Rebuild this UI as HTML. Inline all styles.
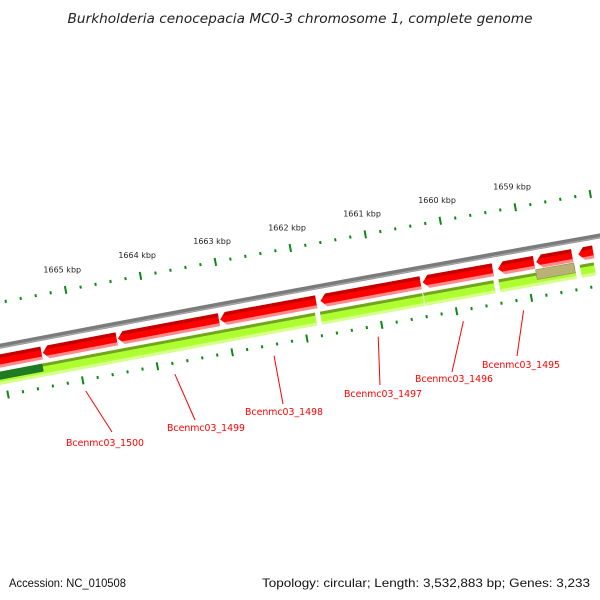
<!DOCTYPE html>
<html><head><meta charset="utf-8"><style>
html,body{margin:0;padding:0;background:#fff;}
svg{display:block;}
</style></head><body>
<svg id="map" width="600" height="600" viewBox="0 0 600 600" xmlns="http://www.w3.org/2000/svg">
<rect width="600" height="600" fill="#fff"/>
<text x="300" y="23" text-anchor="middle" font-family="DejaVu Sans, Liberation Sans, sans-serif" font-style="italic" font-size="13" textLength="465" lengthAdjust="spacingAndGlyphs" fill="#222">Burkholderia cenocepacia MC0-3 chromosome 1, complete genome</text>
<g id="layer"></g>
<text x="9" y="587" font-family="Liberation Sans, sans-serif" font-size="12" textLength="117" lengthAdjust="spacingAndGlyphs" fill="#111">Accession: NC_010508</text>
<text x="590" y="587" text-anchor="end" font-family="Liberation Sans, sans-serif" font-size="12" textLength="328" lengthAdjust="spacingAndGlyphs" fill="#111">Topology: circular; Length: 3,532,883 bp; Genes: 3,233</text>
</svg>
<script>
const genomeLength = 3532883;
const tickLabels = [1665000, 1664000, 1663000, 1662000, 1661000, 1660000, 1659000];
const redGeneStarts = [1665464, 1664459, 1663092, 1661792, 1660398, 1659434, 1658884, 1658375, 1658094];
const redGeneEnds   = [1666442, 1665450, 1664445, 1663078, 1661738, 1660372, 1659367, 1658857, 1658295];
const greenStarts = [1663097, 1661837, 1660403, 1659452, 1658367, 1658112, 1665482];
const greenEnds   = [1665482, 1663097, 1661770, 1660390, 1659385, 1658299, 1666487];
const darkGreenStarts = [1665482];
const darkGreenEnds = [1666487];
const khakiStarts = [1658373];
const khakiEnds = [1658882];
const geneLabels = ["Bcenmc03_1500","Bcenmc03_1499","Bcenmc03_1498","Bcenmc03_1497","Bcenmc03_1496","Bcenmc03_1495"];
const geneLabelBp = [1664987, 1663794, 1662467, 1661074, 1659935, 1659131];

// layout
const labelLineEnd = [[112,432],[195,420],[283,404],[380,385],[452,372],[517,356]];
const labelTextPos = [[66,446],[167,431],[245,415],[344,397],[415,382],[482,368]];

const NS = "http://www.w3.org/2000/svg";
const layer = document.getElementById('layer');
const pxPerBp = 0.0762;
const R = pxPerBp * genomeLength / (2 * Math.PI);
const refBp = 1665000, P0 = [66, 292];
const n = [-0.186, -0.9825];
const C = [P0[0] - R * n[0], P0[1] - R * n[1]];
const a0 = Math.atan2(n[1], n[0]);
function pos(bp, off) {
  const a = a0 + (refBp - bp) / genomeLength * 2 * Math.PI;
  return [C[0] + (R + off) * Math.cos(a), C[1] + (R + off) * Math.sin(a)];
}
function pts(list) { return list.map(p => p[0].toFixed(2) + ',' + p[1].toFixed(2)).join(' '); }
function mk(tag, attrs) { const e = document.createElementNS(NS, tag); for (const k in attrs) e.setAttribute(k, attrs[k]); return e; }
function bandPts(s, e, o1, o2) {
  const m = (s + e) / 2;
  return [pos(s, o1), pos(m, o1), pos(e, o1), pos(e, o2), pos(m, o2), pos(s, o2)];
}

// backbone
const bb = [];
for (let b = 1667000; b >= 1657000; b -= 500) bb.push(pos(b, -43));
const back = mk('polyline', {points: pts(bb), fill: 'none', stroke: '#7b7b7b', 'stroke-width': 5});


layer.appendChild(back);
const backHi = mk('polyline', {points: pts(bb.map((p, i) => pos(1667000 - i * 500, -44.5))), fill: 'none', stroke: '#a8a8a8', 'stroke-width': 1.2});


layer.appendChild(backHi);

// ticks
for (let b = 1666800; b >= 1657400; b -= 200) {
  const major = b % 1000 === 0;
  const h = major ? 4 : 1.5;
  [0, -92].forEach((base, k) => {
    const p1 = pos(b, base + h), p2 = pos(b, base - h);
    const t = mk('line', {x1: p1[0], y1: p1[1], x2: p2[0], y2: p2[1], stroke: '#0a8a14', 'stroke-width': 2});
    
    
    layer.appendChild(t);
  });
}
tickLabels.forEach(b => {
  const p = pos(b, 18);
  const t = mk('text', {x: p[0], y: p[1], 'text-anchor': 'middle', 'font-family': 'DejaVu Sans, Liberation Sans, sans-serif', 'font-size': 8, fill: '#222'});
  t.textContent = (b / 1000) + ' kbp';
  
  
  layer.appendChild(t);
});

// green bands
const greenTop = -68, greenBot = -81;
greenStarts.forEach((s, i) => {
  const e = greenEnds[i];
  const g = mk('g', {});
  
  
  g.appendChild(mk('polygon', {points: pts(bandPts(s, e, greenTop, greenBot)), fill: '#adff2f'}));
  g.appendChild(mk('polygon', {points: pts(bandPts(s, e, greenTop, greenTop - 3)), fill: '#72a520'}));
  g.appendChild(mk('polygon', {points: pts(bandPts(s, e, greenBot + 3, greenBot)), fill: '#d6ff8c'}));
  layer.appendChild(g);
});
darkGreenStarts.forEach((s, i) => {
  const p = mk('polygon', {points: pts(bandPts(s, darkGreenEnds[i], greenTop, greenTop - 8)), fill: '#1f7a24'});
  
  
  layer.appendChild(p);
});
khakiStarts.forEach((s, i) => {
  const p = mk('polygon', {points: pts(bandPts(s, khakiEnds[i], -65, -75)), fill: '#b8b274', stroke: '#8f8a55', 'stroke-width': 0.6});
  
  
  layer.appendChild(p);
});

// red gene arrows
const redTop = -51, redBot = -64, headBp = 6 / pxPerBp;
const defs = mk('defs', {});
layer.appendChild(defs);
redGeneStarts.forEach((s, i) => {
  const e = redGeneEnds[i];
  const mid = (redTop + redBot) / 2;
  const hb = Math.min(headBp, (e - s) * 0.6);
  const shape = [pos(s, redTop), pos(e - hb, redTop), pos(e, mid), pos(e - hb, redBot), pos(s, redBot)];
  const cp = mk('clipPath', {id: 'gc' + i});
  cp.appendChild(mk('polygon', {points: pts(shape)}));
  defs.appendChild(cp);
  const g = mk('g', {'clip-path': 'url(#gc' + i + ')'});
  
  
  g.appendChild(mk('polygon', {points: pts(shape), fill: '#ff0000'}));
  g.appendChild(mk('polygon', {points: pts(bandPts(s, e + 50, redTop + 1, redTop - 3.5)), fill: '#c40000'}));
  g.appendChild(mk('polygon', {points: pts(bandPts(s, e + 50, redBot + 3, redBot - 1)), fill: '#ff8a8a'}));
  layer.appendChild(g);
});

// gene labels
geneLabels.forEach((txt, i) => {
  const p = pos(geneLabelBp[i], -103);
  const l = mk('line', {x1: p[0], y1: p[1], x2: labelLineEnd[i][0], y2: labelLineEnd[i][1], stroke: '#ff0000', 'stroke-width': 1});
  
  
  layer.appendChild(l);
  const t = mk('text', {x: labelTextPos[i][0], y: labelTextPos[i][1], 'font-family': 'DejaVu Sans, Liberation Sans, sans-serif', 'font-size': 10, fill: '#ff0000', textLength: 78, lengthAdjust: 'spacingAndGlyphs'});
  t.textContent = txt;
  
  
  layer.appendChild(t);
});
</script>
</body></html>
